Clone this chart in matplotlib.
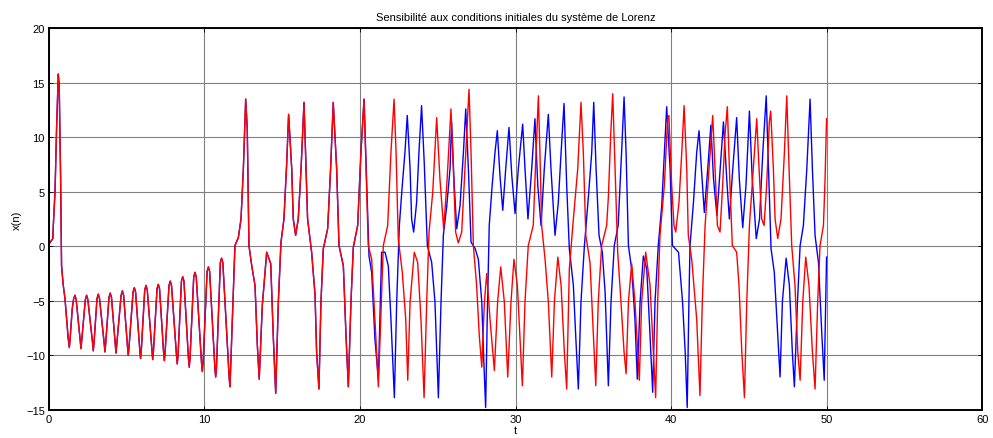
"""
Lorenz system: sensitivity to initial conditions, x(t) for two nearby starts
"""
import numpy as np
import matplotlib
matplotlib.use('Agg')
import matplotlib.pyplot as plt

plt.rcParams['font.family'] = ['Liberation Sans Narrow', 'Liberation Sans', 'DejaVu Sans']

# Shared part (both trajectories overlap until t ~ 20.3)
t_common = [0.00, 0.25, 0.28, 0.39, 0.49, 0.60, 0.66, 0.75, 0.81, 0.92, 1.03, 1.14, 1.24, 1.31,
            1.36, 1.50, 1.59, 1.67, 1.75, 2.01, 2.06, 2.11, 2.34, 2.42, 2.50, 2.80, 2.85, 2.90,
            3.09, 3.17, 3.25, 3.55, 3.60, 3.65, 3.86, 3.94, 4.02, 4.26, 4.31, 4.36, 4.64, 4.72,
            4.80, 5.05, 5.10, 5.15, 5.41, 5.49, 5.57, 5.84, 5.89, 5.94, 6.16, 6.24, 6.32, 6.62,
            6.67, 6.72, 6.95, 7.03, 7.11, 7.37, 7.42, 7.47, 7.72, 7.80, 7.88, 8.20, 8.25, 8.30,
            8.52, 8.60, 8.68, 8.97, 9.02, 9.07, 9.31, 9.39, 9.47, 9.81, 9.86, 9.91, 10.17, 10.25,
            10.33, 10.67, 10.72, 10.77, 11.02, 11.10, 11.18, 11.59, 11.64,
            11.96, 12.18, 12.35, 12.50, 12.65, 12.75, 12.86, 13.04, 13.25, 13.40, 13.52, 13.72,
            14.00, 14.26, 14.43, 14.58, 14.75, 14.92, 15.11, 15.29, 15.41, 15.61, 15.71, 15.86,
            16.03, 16.21, 16.40, 16.63, 16.89, 17.11, 17.21, 17.36, 17.49, 17.64, 17.92, 18.11,
            18.28, 18.50, 18.65, 18.93, 19.10, 19.25, 19.42, 19.57, 19.85, 20.06, 20.26, 20.43]
x_common = [0.2, 0.7, 1.9, 5.0, 10.8, 15.8, 14.7, 6.2, -1.8, -3.6, -4.8, -6.7, -8.5, -9.3,
            -8.5, -5.7, -4.8, -4.5, -4.9, -8.6, -9.4, -8.6, -4.9, -4.5, -4.9, -8.8, -9.6, -8.8,
            -4.8, -4.4, -4.8, -8.9, -9.7, -8.9, -4.7, -4.3, -4.7, -9.0, -9.8, -9.0, -4.5, -4.1,
            -4.5, -9.2, -10.0, -9.2, -4.2, -3.8, -4.2, -9.5, -10.3, -9.5, -4.0, -3.6, -4.0, -9.6,
            -10.4, -9.6, -3.9, -3.5, -3.9, -9.7, -10.5, -9.7, -3.6, -3.2, -3.6, -10.0, -10.8, -10.0,
            -3.2, -2.8, -3.2, -10.3, -11.1, -10.3, -2.8, -2.4, -2.8, -10.7, -11.5, -10.7, -2.3, -1.9,
            -2.3, -11.2, -12.0, -11.2, -1.5, -1.1, -1.5, -12.1, -12.9,
            0.06, 0.8, 2.5, 7.1, 13.5, 10.8, 0.06, -1.8, -3.6, -9.1, -12.2, -5.4,
            -0.55, -1.6, -8.5, -13.5, -5.1, 0.37, 2.5, 7.7, 12.1, 7.1, 2.5, 1.0,
            2.5, 7.1, 13.2, 2.5, -0.55, -4.5, -9.7, -13.1, -5.1, -0.24, 1.6, 7.1,
            13.2, 7.1, 0.06, -1.8, -8.2, -12.9, -5.1, -0.1, 1.9, 8.6, 13.5, 4.0]

# Blue trajectory after divergence
t_blue = [20.58, 20.75, 20.96, 21.18, 21.39, 21.61, 21.82, 21.99, 22.21, 22.36, 22.53, 22.72,
          22.89, 23.04, 23.22, 23.32, 23.45, 23.64, 23.79, 23.96, 24.13, 24.33, 24.61, 24.82,
          25.04, 25.21, 25.36, 25.58, 25.79, 25.89, 26.06, 26.22, 26.43, 26.65, 26.80, 26.97,
          27.14, 27.40, 27.61, 27.83, 27.97, 28.08, 28.18, 28.31, 28.50, 28.68, 28.83, 29.00,
          29.18, 29.37, 29.58, 29.76, 29.97, 30.18, 30.46, 30.61, 30.80, 31.04, 31.25, 31.43,
          31.64, 31.85, 32.11, 32.28, 32.54, 32.75, 32.93, 33.12, 33.29, 33.46, 33.72, 33.87,
          34.04, 34.21, 34.43, 34.69, 34.90, 35.03, 35.18, 35.37, 35.58, 35.76, 35.97, 36.14,
          36.35, 36.60, 36.82, 36.98, 37.11, 37.26, 37.47, 37.68, 37.83, 38.01, 38.22, 38.44,
          38.65, 38.82, 38.97, 39.18, 39.40, 39.57, 39.72, 39.94, 40.09, 40.48, 40.74, 40.91,
          41.04, 41.15, 41.22, 41.44, 41.65, 41.80, 41.98, 42.14, 42.36, 42.56, 42.73, 42.95,
          43.16, 43.37, 43.58, 43.75, 43.97, 44.22, 44.39, 44.61, 44.82, 45.04, 45.22, 45.48,
          45.69, 45.90, 46.12, 46.30, 46.43, 46.64, 46.86, 47.01, 47.16, 47.40, 47.61, 47.80,
          47.93, 48.13, 48.30, 48.51, 48.73, 48.94, 49.09, 49.26, 49.48, 49.70, 49.85, 49.95,
          50.00]
x_blue = [-0.9, -2.4, -8.5, -12.2, -0.55, -0.55, -1.8, -6.7, -13.9, -5.1, 1.9, 5.6,
          8.6, 12.0, 7.1, 2.5, 1.3, 4.0, 8.6, 12.9, 7.7, 0.06, -1.5, -5.1,
          -13.9, -5.1, 1.0, 3.7, 7.1, 11.4, 5.6, 1.6, 3.7, 8.6, 12.6, 7.1,
          0.37, -0.2, -1.2, -5.1, -10.9, -14.8, -6.7, 1.9, 5.6, 8.6, 10.6, 6.5,
          3.3, 7.1, 10.9, 6.5, 3.0, 7.1, 11.2, 7.1, 2.5, 7.1, 11.7, 5.6,
          1.9, 7.1, 12.1, 7.1, 1.0, 4.0, 8.6, 13.1, 5.6, -0.24, -3.6, -8.2,
          -13.1, -5.1, 0.06, 4.6, 8.6, 13.2, 7.1, 1.0, -0.55, -4.2, -12.8, -5.1,
          0.06, 1.9, 8.6, 13.7, 8.6, 0.06, -2.1, -6.7, -12.2, -5.1, -0.9, -2.1,
          -8.2, -13.4, -5.1, 0.06, 3.7, 8.6, 12.8, 7.1, 0.06, -0.55, -5.1, -9.7,
          -14.8, -5.1, 0.06, 4.0, 8.6, 10.6, 6.5, 3.1, 7.1, 11.1, 6.2, 2.8,
          7.1, 11.4, 6.2, 2.5, 7.1, 11.8, 6.2, 1.7, 5.6, 12.4, 6.2, 0.7,
          2.5, 8.6, 13.8, 5.6, -0.2, -2.4, -8.2, -12.0, -5.1, -1.1, -3.6, -9.7,
          -12.9, -5.1, 0.06, 1.9, 7.1, 13.5, 7.1, 1.0, -1.5, -8.2, -12.3, -5.1,
          -1.0]

# Red trajectory after divergence
t_red = [20.53, 20.75, 20.96, 21.18, 21.33, 21.50, 21.78, 21.99, 22.19, 22.32, 22.46, 22.72,
         22.94, 23.07, 23.22, 23.49, 23.71, 23.92, 24.12, 24.29, 24.44, 24.68, 24.93, 25.14,
         25.38, 25.58, 25.85, 26.00, 26.15, 26.32, 26.54, 26.80, 27.01, 27.14, 27.29, 27.50,
         27.67, 27.83, 28.00, 28.15, 28.36, 28.64, 28.85, 29.05, 29.28, 29.50, 29.71, 29.90,
         30.12, 30.44, 30.61, 30.82, 31.14, 31.32, 31.47, 31.57, 31.68, 31.90, 32.11, 32.33,
         32.50, 32.72, 32.93, 33.14, 33.29, 33.46, 33.72, 34.00, 34.21, 34.36, 34.52, 34.79,
         35.01, 35.16, 35.32, 35.54, 35.86, 35.97, 36.12, 36.25, 36.40, 36.57, 36.78, 36.98,
         37.11, 37.26, 37.47, 37.68, 37.96, 38.11, 38.37, 38.65, 38.86, 39.01, 39.14, 39.29,
         39.57, 39.78, 39.86, 40.04, 40.19, 40.30, 40.51, 40.69, 40.84, 41.01, 41.11, 41.33,
         41.65, 41.86, 42.01, 42.19, 42.44, 42.68, 42.83, 42.98, 43.15, 43.32, 43.47, 43.62,
         43.79, 43.94, 44.22, 44.37, 44.55, 44.72, 44.87, 45.04, 45.29, 45.51, 45.66, 45.83,
         45.98, 46.15, 46.32, 46.41, 46.58, 46.69, 46.86, 47.07, 47.29, 47.44, 47.59, 47.76,
         47.97, 48.15, 48.30, 48.47, 48.66, 48.87, 49.09, 49.26, 49.43, 49.58, 49.80, 49.90,
         50.00]
x_red = [0.06, -1.2, -6.7, -12.9, -6.7, 0.06, 1.9, 8.6, 13.5, 8.6, 0.7, -2.4,
         -6.7, -12.3, -5.1, -0.55, -1.5, -6.7, -13.9, -5.1, 1.3, 5.0, 11.8, 6.2,
         1.6, 5.6, 12.6, 7.1, 1.3, 0.3, 1.3, 8.6, 14.4, 8.6, 0.06, -3.6,
         -8.2, -11.1, -5.1, -2.5, -6.7, -11.4, -5.1, -1.9, -5.1, -12.0, -5.1, -1.2,
         -3.6, -12.8, -5.1, 0.06, 1.9, 8.6, 13.8, 8.6, 1.9, -1.2, -5.1, -12.0,
         -5.1, -1.0, -3.6, -9.7, -13.1, -2.1, 2.5, 7.1, 13.2, 8.6, 1.0, -1.5,
         -8.2, -12.8, -5.1, 0.06, 1.9, 4.5, 10.2, 14.0, 7.1, -0.55, -5.1, -9.7,
         -11.7, -5.1, -1.6, -5.1, -12.3, -5.1, -0.55, -3.6, -9.7, -13.9, -5.1, 1.0,
         5.6, 11.7, 12.0, 5.6, 1.9, 1.3, 4.0, 8.6, 12.9, 7.1, 1.0, -1.2,
         -6.7, -13.7, -5.1, 1.9, 7.1, 12.0, 7.1, 1.9, 1.3, 5.6, 10.2, 12.8,
         5.6, 0.06, -0.55, -3.6, -9.7, -13.9, -5.1, 1.9, 7.1, 11.7, 7.1, 2.5,
         1.9, 5.6, 11.4, 12.4, 7.1, 2.5, 0.7, 2.5, 8.6, 13.8, 7.1, 0.06,
         -3.6, -9.7, -12.3, -5.1, -1.0, -3.6, -9.7, -13.1, -5.1, 0.06, 1.9, 6.0,
         11.7]

xticks = [0, 10, 20, 30, 40, 50, 60]
yticks = [-15, -10, -5, 0, 5, 10, 15, 20]

t1 = np.array(t_common[:-1] + t_blue)
x1 = np.array(x_common[:-1] + x_blue)
t2 = np.array(t_common[:-1] + t_red)
x2 = np.array(x_common[:-1] + x_red)

fig = plt.figure(figsize=(9.93, 4.39), dpi=100)
ax = fig.add_axes([0.0493, 0.0645, 0.9397, 0.8688])

ax.plot(t1, x1, color='#0000ff', linewidth=1.0)
ax.plot(t2, x2, color='#ff0000', linewidth=1.0)

ax.set_xlim(0, 60)
ax.set_ylim(-15, 20)
ax.set_xticks(xticks)
ax.set_yticks(yticks)
ax.grid(True, color='#808080', linewidth=0.8)
ax.tick_params(direction='in', top=True, right=True, labelsize=8, length=3, width=0.6, pad=3)
for s in ax.spines.values():
    s.set_linewidth(1.4)

ax.set_title('Sensibilité aux conditions initiales du système de Lorenz', fontsize=8, pad=6)
ax.set_xlabel('t', fontsize=8, labelpad=1)
ax.set_ylabel('x(n)', fontsize=8, labelpad=3)

plt.savefig('out.png', dpi=100)
